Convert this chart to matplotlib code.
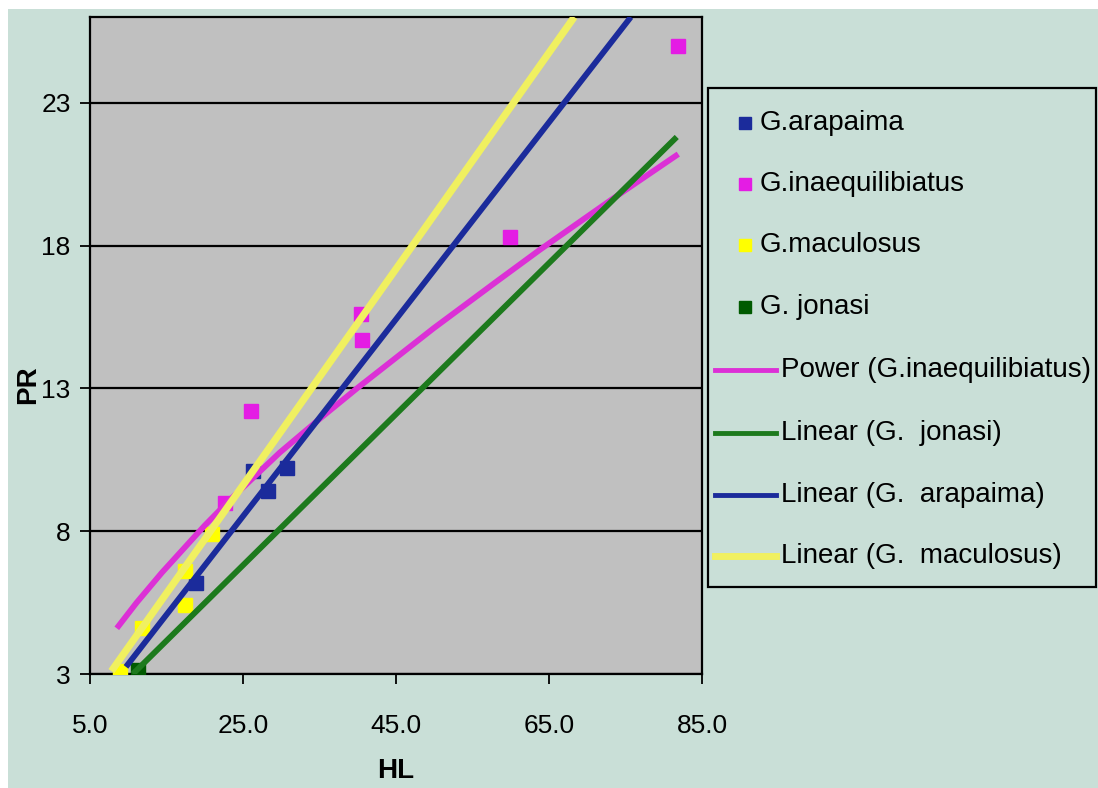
import matplotlib
matplotlib.use('Agg')
import matplotlib.pyplot as plt
from matplotlib.patches import Rectangle
from matplotlib.lines import Line2D

W, H = 1098, 788
FONT = ['Liberation Sans', 'DejaVu Sans']

# scatter points (HL, PR)
arapaima_hl = [18.9, 26.3, 28.3, 30.7]
arapaima_pr = [6.2, 10.1, 9.4, 10.2]
inaeq_hl = [22.6, 26.0, 40.4, 40.5, 59.9, 81.9]
inaeq_pr = [9.0, 12.2, 15.6, 14.7, 18.3, 25.0]
maculosus_hl = [8.9, 11.8, 17.4, 17.4, 20.9]
maculosus_pr = [3.1, 4.6, 5.4, 6.6, 7.9]
jonasi_hl = [11.3]
jonasi_pr = [3.15]

# trend lines
power_inaeq_hl = [8.5, 11.1, 14.4, 20.0, 23.3, 29.8, 35.1, 39.9, 49.9, 58.2, 63.8, 73.4, 81.9]
power_inaeq_pr = [4.6, 5.5, 6.55, 8.2, 9.1, 10.75, 11.95, 13.0, 15.1, 16.75, 17.85, 19.65, 21.2]
lin_jonasi_hl = [10.6, 81.7]
lin_jonasi_pr = [3.0, 21.8]
lin_arapaima_hl = [9.7, 75.7]
lin_arapaima_pr = [3.25, 26.0]
lin_maculosus_hl = [7.8, 68.3]
lin_maculosus_pr = [3.1, 26.0]

x_ticks = [5, 25, 45, 65, 85]
y_ticks = [3, 8, 13, 18, 23]

MINT = '#C9DFD7'
BLUE = '#1B2B9B'
PINK = '#E41CE4'
PINK_LINE = '#DC30D6'
YELLOW = '#FFFF00'
YELLOW_LINE = '#F0F060'
GREEN = '#005A00'
GREEN_LINE = '#1D7A1D'


def fx(px):
    return px / W


def fy(py):
    return 1 - py / H


fig = plt.figure(figsize=(W / 100, H / 100), dpi=100, facecolor='white')
fig.add_artist(Rectangle((fx(8), 0), 1, fy(9), transform=fig.transFigure,
                         facecolor=MINT, edgecolor='none', zorder=-10))

# plot area: x 5..85 -> px 90..702, y 3..26 -> px 674..17
ax = fig.add_axes([fx(90), fy(674), fx(702) - fx(90), fy(17) - fy(674)])
ax.set_facecolor('#C0C0C0')
ax.set_xlim(5, 85)
ax.set_ylim(3, 26)
ax.set_xticks(x_ticks)
ax.set_xticklabels(['%.1f' % v for v in x_ticks])
ax.set_yticks(y_ticks)
ax.set_yticklabels([str(v) for v in y_ticks])
ax.yaxis.grid(True, color='black', linewidth=1.6)
ax.set_axisbelow(True)
for s in ax.spines.values():
    s.set_color('black')
    s.set_linewidth(1.6)
ax.tick_params(axis='both', direction='out', length=7, width=1.3, labelsize=19)
ax.tick_params(axis='y', pad=7)
ax.tick_params(axis='x', pad=22)
for lab in ax.get_xticklabels() + ax.get_yticklabels():
    lab.set_family(FONT)

# markers
ax.plot(arapaima_hl, arapaima_pr, 's', color=BLUE, markersize=10, zorder=3)
ax.plot(inaeq_hl, inaeq_pr, 's', color=PINK, markersize=10, zorder=3)
ax.plot(maculosus_hl, maculosus_pr, 's', color=YELLOW, markersize=10, zorder=3)
ax.plot(jonasi_hl, jonasi_pr, 's', color=GREEN, markersize=10, zorder=3)

# trend lines on top of markers
ax.plot(power_inaeq_hl, power_inaeq_pr, color=PINK_LINE, linewidth=4.2, zorder=4,
        solid_capstyle='butt', solid_joinstyle='round')
ax.plot(lin_jonasi_hl, lin_jonasi_pr, color=GREEN_LINE, linewidth=4.2, zorder=5,
        solid_capstyle='butt')
ax.plot(lin_arapaima_hl, lin_arapaima_pr, color=BLUE, linewidth=4.2, zorder=6,
        solid_capstyle='butt')
ax.plot(lin_maculosus_hl, lin_maculosus_pr, color=YELLOW_LINE, linewidth=5.2, zorder=7,
        solid_capstyle='butt')

fig.text(fx(28), fy(385), 'PR', rotation=90, ha='center', va='center',
         fontsize=20, fontweight='bold', family=FONT)
fig.text(fx(396), fy(771), 'HL', ha='center', va='center',
         fontsize=20, fontweight='bold', family=FONT)

# legend box
fig.add_artist(Rectangle((fx(708), fy(587)), fx(1096) - fx(708), fy(88) - fy(587),
                         transform=fig.transFigure, facecolor=MINT,
                         edgecolor='black', linewidth=1.6, zorder=8))
marker_entries = [('G.arapaima', BLUE), ('G.inaequilibiatus', PINK),
                  ('G.maculosus', YELLOW), ('G. jonasi', GREEN)]
line_entries = [('Power (G.inaequilibiatus)', PINK_LINE),
                ('Linear (G.  jonasi)', GREEN_LINE),
                ('Linear (G.  arapaima)', BLUE),
                ('Linear (G.  maculosus)', YELLOW_LINE)]
row_y = [123, 184, 245, 307, 370, 433, 495, 556]
for i, (name, c) in enumerate(marker_entries):
    fig.add_artist(Line2D([fx(745)], [fy(row_y[i])], marker='s', color=c,
                          markersize=9, linestyle='none',
                          transform=fig.transFigure, zorder=9))
    fig.text(fx(760), fy(row_y[i]), name, ha='left', va='center',
             fontsize=20, family=FONT, zorder=9)
for j, (name, c) in enumerate(line_entries):
    yy = row_y[4 + j]
    fig.add_artist(Line2D([fx(715), fx(776)], [fy(yy), fy(yy)], color=c,
                          linewidth=3.5 if j < 3 else 5,
                          transform=fig.transFigure, zorder=9))
    fig.text(fx(781), fy(yy), name, ha='left', va='center',
             fontsize=20, family=FONT, zorder=9)

fig.savefig('out.png', dpi=100, facecolor=fig.get_facecolor())
